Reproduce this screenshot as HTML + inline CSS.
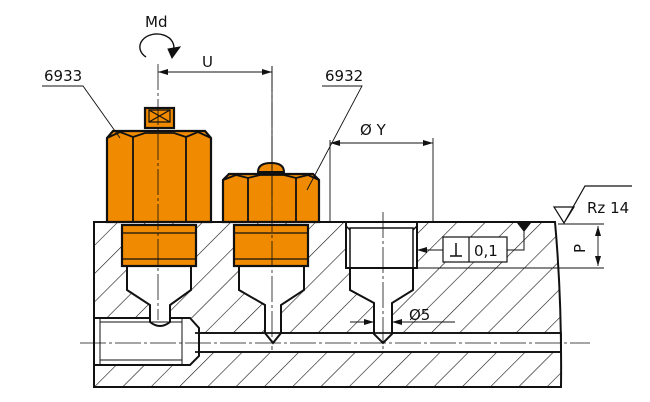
<!DOCTYPE html>
<html><head><meta charset="utf-8"><style>
html,body{margin:0;padding:0;background:#fff;}
svg{display:block;}
text{font-family:"DejaVu Sans","Liberation Sans",sans-serif;fill:#111;}
</style></head><body>
<svg width="650" height="402" viewBox="0 0 650 402" xmlns="http://www.w3.org/2000/svg">
<defs>
<pattern id="h" width="20" height="20" patternUnits="userSpaceOnUse" patternTransform="rotate(45)">
<line x1="0" y1="0" x2="0" y2="20" stroke="#111" stroke-width="1.2"/>
</pattern>
<marker id="a" viewBox="0 0 10 6" refX="10" refY="3" markerWidth="11" markerHeight="6" orient="auto-start-reverse" markerUnits="userSpaceOnUse"><path d="M0,0 L10,3 L0,6 Z" fill="#111"/></marker>
</defs>
<g stroke="#111" fill="none">
<path d="M94,222 L555,222 Q562,300 561,387 L94,387 Z" fill="url(#h)" stroke="none"/>
<g fill="#fff" stroke="#111" stroke-width="2">
<path d="M195,333 L561,333 L561,352 L195,352 Z" stroke-width="1.8"/>
<path d="M94,318 L190,318 L199,328 L199,356 L190,365 L94,365 Z"/>
<path d="M127,266 L191,266 L191,290 L170,305 L170,322 Q160,330 150,322 L150,305 L127,290 Z"/>
<path d="M239,266 L304,266 L304,290 L281,305 L281,333 L273,343 L265,333 L265,305 L239,290 Z"/>
<path d="M346,222 L417,222 L417,268 L413,268 L413,290 L392,303 L392,334 L383,343 L374,334 L374,303 L350,290 L350,268 L346,268 Z"/>
</g>
<path d="M195,333 L561,333 M195,352 L561,352" stroke-width="1.8"/>
<path d="M100,318 L100,365 M182,318 L182,365 M100,322 L182,322 M100,360 L182,360" stroke-width="1"/>
<path d="M350,228 L413,228 L413,268 L350,268 Z M346,226 L350,230 M417,226 L413,230" stroke-width="1.5"/>
<path d="M350,268 L413,268" stroke-width="2"/>
<path d="M94,222 L555,222 Q562,300 561,387 L94,387 Z" stroke-width="2"/>
<rect x="122" y="225" width="74" height="41" fill="#f08a00" stroke-width="2.2"/>
<path d="M122,233 L196,233 M122,259 L196,259" stroke-width="1.2"/>
<path d="M107,222 L107,138 L113,131 L205,131 L211,138 L211,222 Z" fill="#f08a00" stroke-width="2.2"/>
<path d="M133,137 L133,222 M186,137 L186,222 M107,138 L120,132 L133,137 L145,133 L174,133 L186,137 L198,132 L211,138" stroke-width="1.8"/>
<rect x="145" y="108" width="29" height="20" fill="#f08a00" stroke-width="2.2"/>
<path d="M149,110 L170,110 L170,122 L149,122 Z M149,110 L170,122 M170,110 L149,122" stroke-width="1.2"/>
<rect x="234" y="225" width="74" height="41" fill="#f08a00" stroke-width="2.2"/>
<path d="M234,233 L308,233 M234,259 L308,259" stroke-width="1.2"/>
<path d="M223,222 L223,180 L229,174 L313,174 L319,180 L319,222 Z" fill="#f08a00" stroke-width="2.2"/>
<path d="M248,178 L248,222 M296,178 L296,222 M223,180 L236,175 L248,178 L260,175 L284,175 L296,178 L308,175 L319,180" stroke-width="1.8"/>
<path d="M258,172 Q258,163 271,163 Q284,163 284,172 Z" fill="#f08a00" stroke-width="2"/>
<path d="M158,64 L158,320 M272,66 L272,350 M383,212 L383,350 M80,343 L590,343" stroke-width="0.8" stroke-dasharray="26,3,3,3"/>
<path d="M272,66 L272,222" stroke-width="0.9"/>
<path d="M158,72 L272,72" stroke-width="0.9" marker-start="url(#a)" marker-end="url(#a)"/>
<path d="M146,57 A17,13 0 1 1 173,51" stroke-width="1.4"/>
<path d="M168,49 L180,47 L172,58 Z" fill="#111"/>
<path d="M42,86 L83,86 L120,138 M322,86 L362,86 L307,190" stroke-width="0.9"/>
<path d="M330,140 L330,222 M433,138 L433,222" stroke-width="0.9"/>
<path d="M330,143 L433,143" stroke-width="0.9" marker-start="url(#a)" marker-end="url(#a)"/>
<path d="M350,322 L374,322" stroke-width="0.9" marker-end="url(#a)"/>
<path d="M455,322 L392,322" stroke-width="0.9" marker-end="url(#a)"/>
<rect x="443" y="237" width="64" height="25" fill="#fff" stroke-width="1.2"/>
<path d="M469,237 L469,262" stroke-width="1.2"/>
<path d="M443,250 L417,250" stroke-width="1" marker-end="url(#a)"/>
<path d="M507,250 L524,250 L524,230" stroke-width="1"/>
<path d="M517,223 L531,223 L524,232 Z" fill="#111" stroke="none"/>
<path d="M450,256 L462,256 M456,256 L456,243" stroke-width="1.5"/>
<path d="M554,207 L574,207 L564,223 Z M564,223 L585,186 L632,186" stroke-width="1.2"/>
<path d="M558,224 L604,224 M415,268 L604,268" stroke-width="0.9"/>
<path d="M598,226 L598,266" stroke-width="0.9" marker-start="url(#a)" marker-end="url(#a)"/>
</g>
<text x="145" y="27" font-size="15">Md</text>
<text x="202" y="67" font-size="15">U</text>
<text x="44" y="81" font-size="15">6933</text>
<text x="325" y="81" font-size="15">6932</text>
<text x="360" y="135" font-size="15">Ø Y</text>
<text x="474" y="256" font-size="15">0,1</text>
<text x="409" y="320" font-size="15">Ø5</text>
<text x="587" y="213" font-size="15">Rz 14</text>
<text x="0" y="0" font-size="15" transform="translate(585,253) rotate(-90)">P</text>
</svg>
</body></html>
